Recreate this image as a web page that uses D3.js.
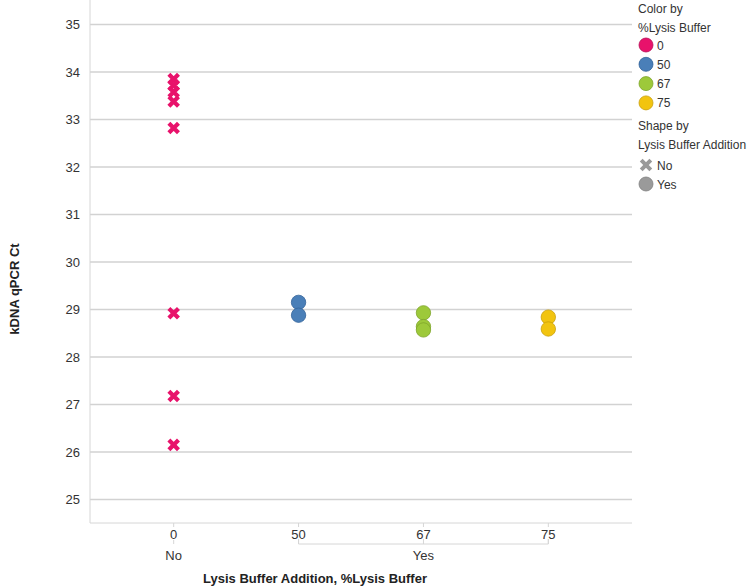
<!DOCTYPE html>
<html><head><meta charset="utf-8">
<script src="https://cdn.jsdelivr.net/npm/d3@7"></script>
<style>
body{margin:0;background:#fff;font-family:"Liberation Sans",Arial,sans-serif;}
</style></head>
<body><svg id="c" width="750" height="588"></svg>
<script>
const categories = ["0","50","67","75"];
const groups = ["No","Yes","Yes","Yes"];
const pct0 = [33.85, 33.72, 33.58, 33.38, 32.82, 28.92, 27.18, 26.15];
const pct50 = [29.15, 28.88];
const pct67 = [28.93, 28.64, 28.57];
const pct75 = [28.84, 28.59];
const yTicks = [25,26,27,28,29,30,31,32,33,34,35];
const colors = ["#e8126b","#4a7fb8","#9dc93a","#f2c40f"];
const strokes = ["#b80e55","#35659a","#7ea52a","#c9a00a"];
const shapes = ["No","Yes"];

const series = [pct0,pct50,pct67,pct75];
const points = [];
series.forEach((arr,i)=>arr.forEach(v=>points.push({cat:categories[i],grp:groups[i],v,ci:i})));

const svg = d3.select("#c");
const L=90, R=632, T=0, B=523;
const x = d3.scaleBand().domain(categories).range([L,R]).paddingOuter(0.17).paddingInner(0);
const y = d3.scaleLinear().domain([25,35]).range([499.5,24.5]);

svg.append("g").selectAll("line").data(yTicks).join("line")
 .attr("x1",L).attr("x2",R).attr("y1",d=>y(d)).attr("y2",d=>y(d))
 .attr("stroke","#d2d2d2").attr("stroke-width",1.5);

svg.append("line").attr("x1",L).attr("x2",L).attr("y1",T).attr("y2",B).attr("stroke","#d6d6d6");
svg.append("line").attr("x1",L).attr("x2",R).attr("y1",B).attr("y2",B).attr("stroke","#d6d6d6");

const yAxis = d3.axisLeft(y).tickValues(yTicks).tickSize(0).tickPadding(10).tickFormat(d3.format("d"));
const gy = svg.append("g").attr("transform",`translate(${L},0)`).call(yAxis);
gy.select(".domain").remove();
gy.selectAll("text").attr("font-size",13).attr("fill","#333").attr("font-family","Liberation Sans, Arial, sans-serif");

const xAxis = d3.axisBottom(x).tickSize(4).tickPadding(3);
const gx = svg.append("g").attr("transform",`translate(0,${B})`).call(xAxis);
gx.select(".domain").remove();
gx.selectAll("line").attr("stroke","#d6d6d6");
gx.selectAll("text").attr("font-size",13).attr("fill","#333").attr("font-family","Liberation Sans, Arial, sans-serif");

const gyes = categories.filter((c,i)=>groups[i]==="Yes");
const bx1 = x(gyes[0])+x.bandwidth()/2, bx2 = x(gyes[gyes.length-1])+x.bandwidth()/2;
const by = 544;
svg.append("path").attr("d",`M${bx1},${by-5}V${by}H${bx2}V${by-5}`).attr("fill","none").attr("stroke","#d6d6d6");
gyes.forEach(c=>svg.append("line").attr("x1",x(c)+x.bandwidth()/2).attr("x2",x(c)+x.bandwidth()/2).attr("y1",by-5).attr("y2",by).attr("stroke","#d6d6d6"));
const noX = x(categories[0])+x.bandwidth()/2;
svg.append("line").attr("x1",noX).attr("x2",noX).attr("y1",by-4).attr("y2",by).attr("stroke","#d6d6d6");
svg.append("text").attr("x",noX).attr("y",560).attr("text-anchor","middle").attr("font-size",13).attr("fill","#333").text("No");
svg.append("text").attr("x",(bx1+bx2)/2).attr("y",560).attr("text-anchor","middle").attr("font-size",13).attr("fill","#333").text("Yes");

svg.append("text").attr("x",315).attr("y",583).attr("text-anchor","middle").attr("font-size",13).attr("font-weight","bold").attr("fill","#222")
 .text("Lysis Buffer Addition, %Lysis Buffer");
svg.append("text").attr("transform","translate(19,289) rotate(-90)").attr("text-anchor","middle").attr("font-size",13).attr("font-weight","bold").attr("fill","#222")
 .text("kDNA qPCR Ct");

const crossPath = "M-4.8,-4.8L4.8,4.8M4.8,-4.8L-4.8,4.8";
const marks = svg.append("g");
points.forEach(p=>{
  const cx = x(p.cat)+x.bandwidth()/2, cy = y(p.v);
  if(p.grp==="No"){
    marks.append("path").attr("d",crossPath).attr("transform",`translate(${cx},${cy})`)
      .attr("fill","none").attr("stroke",colors[p.ci]).attr("stroke-width",4.2);
  } else {
    marks.append("circle").attr("cx",cx).attr("cy",cy).attr("r",7.2)
      .attr("fill",colors[p.ci]).attr("stroke",strokes[p.ci]).attr("stroke-width",0.8);
  }
});

const lg = svg.append("g").attr("font-size",12).attr("fill","#333");
lg.append("text").attr("x",638).attr("y",13).text("Color by");
lg.append("text").attr("x",638).attr("y",32).text("%Lysis Buffer");
categories.forEach((c,i)=>{
  const yy = 45 + i*19.3;
  lg.append("circle").attr("cx",646).attr("cy",yy).attr("r",7).attr("fill",colors[i]).attr("stroke",strokes[i]).attr("stroke-width",0.8);
  lg.append("text").attr("x",657).attr("y",yy+4.5).text(c);
});
lg.append("text").attr("x",638).attr("y",130).text("Shape by");
lg.append("text").attr("x",638).attr("y",149).text("Lysis Buffer Addition");
shapes.forEach((s,i)=>{
  const yy = 165 + i*19;
  if(s==="No") lg.append("path").attr("d",crossPath).attr("transform",`translate(646,${yy})`).attr("fill","none").attr("stroke","#9a9a9a").attr("stroke-width",4);
  else lg.append("circle").attr("cx",646).attr("cy",yy).attr("r",7).attr("fill","#9a9a9a").attr("stroke","#808080").attr("stroke-width",0.8);
  lg.append("text").attr("x",657).attr("y",yy+4.5).text(s);
});
</script></body></html>
